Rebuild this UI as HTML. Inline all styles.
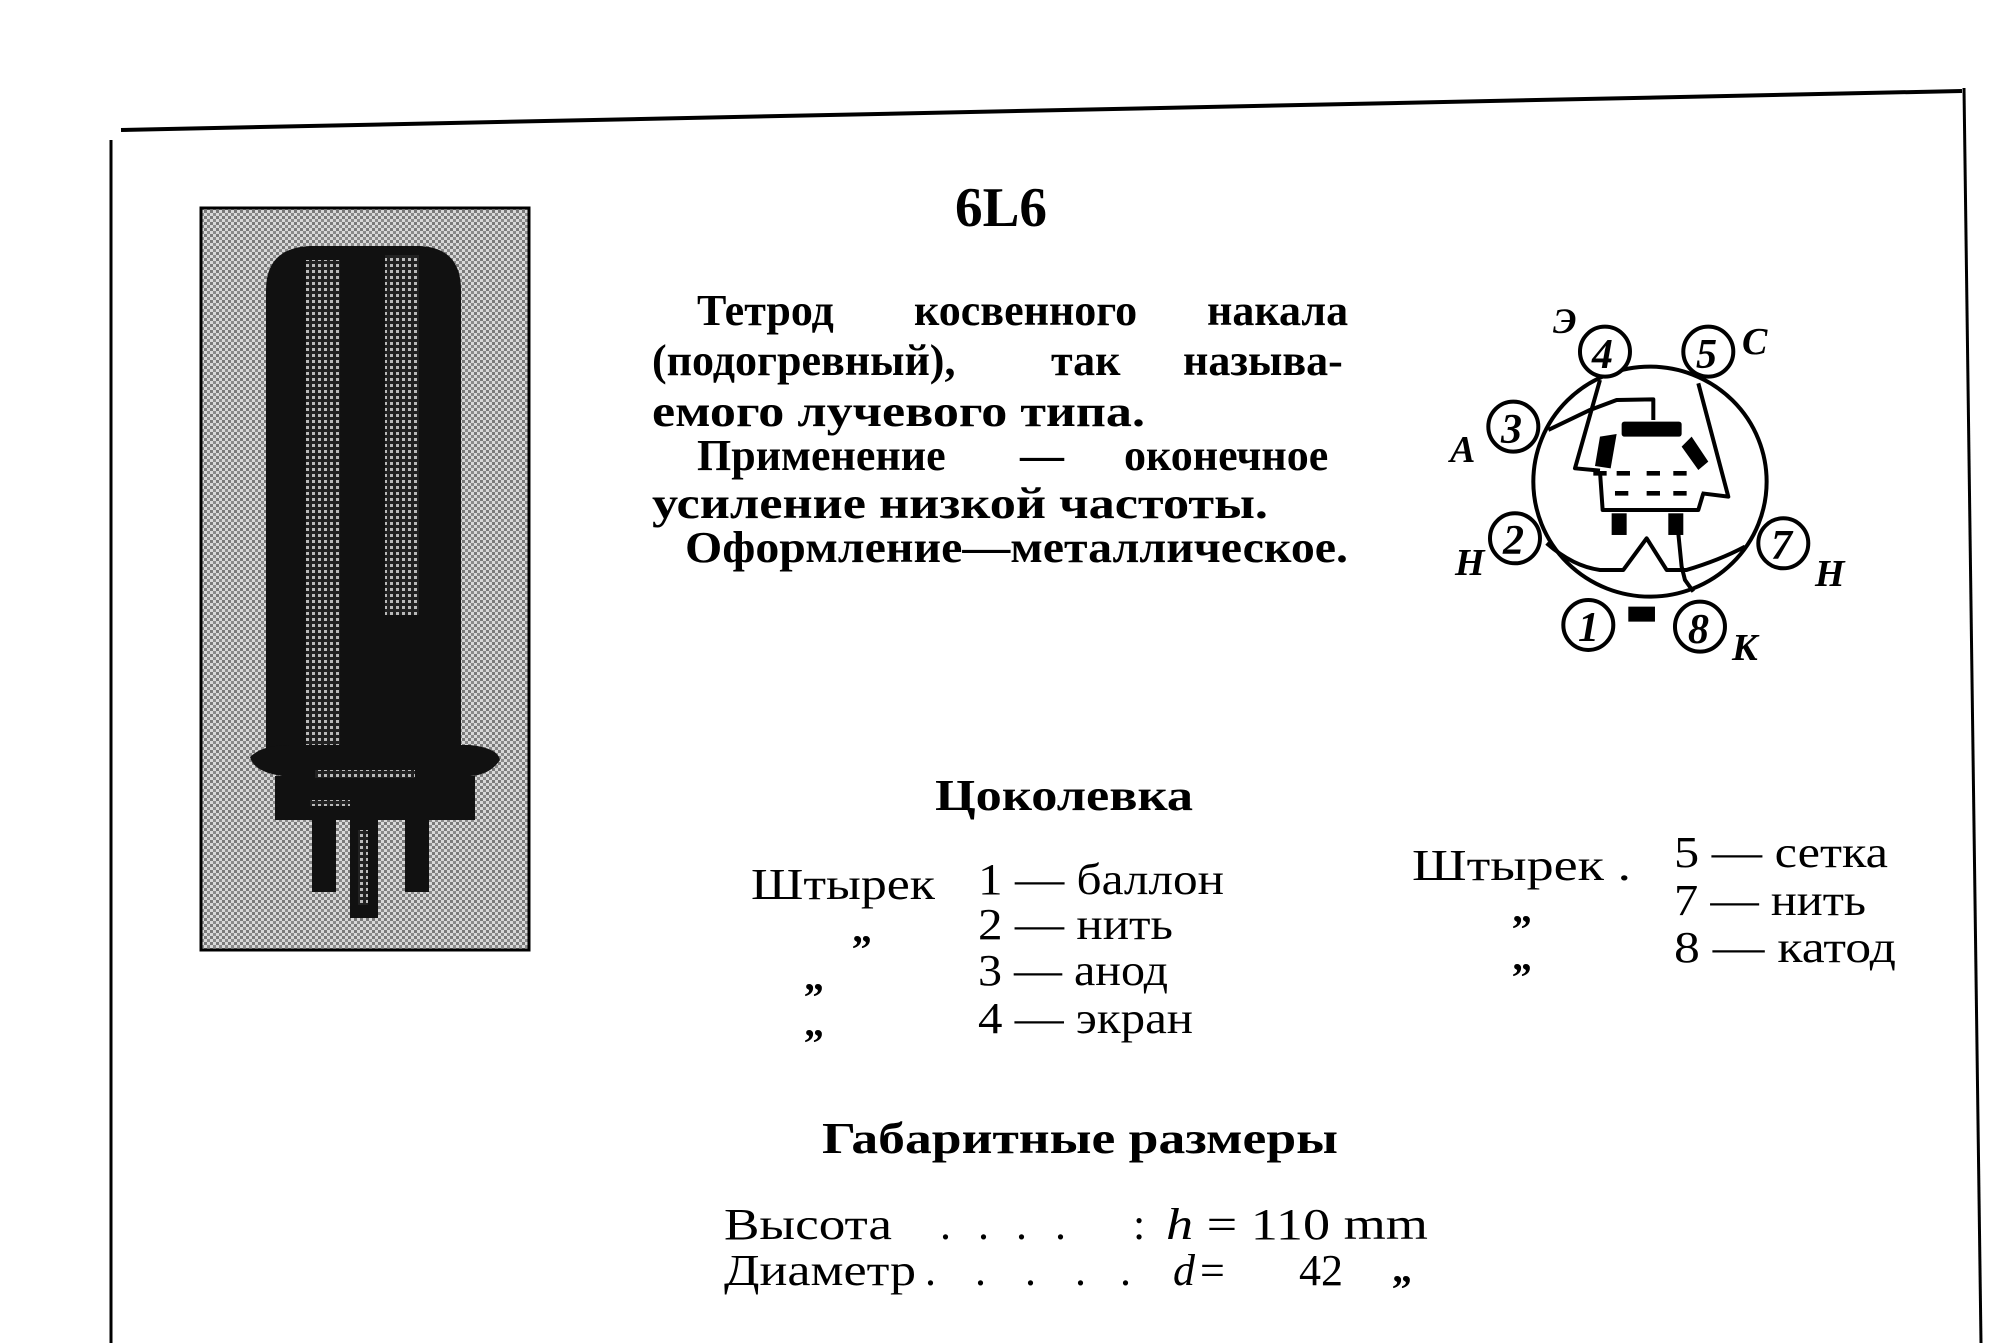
<!DOCTYPE html>
<html><head><meta charset="utf-8"><style>
html,body{margin:0;padding:0;background:#fff;}
svg{display:block;}
text{font-family:"Liberation Serif",serif;fill:#000;}
.b{font-weight:bold;}
</style></head><body>
<svg width="2013" height="1343" viewBox="0 0 2013 1343" xmlns="http://www.w3.org/2000/svg">
<defs>
<pattern id="dots" width="6" height="6" patternUnits="userSpaceOnUse">
<rect width="6" height="6" fill="#d8d8d8"/>
<rect x="0" y="0" width="3" height="3" fill="#7a7a7a"/>
<rect x="3" y="3" width="3" height="3" fill="#8a8a8a"/>
</pattern>
<pattern id="dots2" width="6" height="6" patternUnits="userSpaceOnUse">
<rect width="6" height="6" fill="#222"/>
<rect x="0" y="0" width="3" height="3" fill="#bbb"/>
</pattern>
</defs>
<rect width="2013" height="1343" fill="#fff"/>
<line x1="121" y1="130" x2="1962" y2="91" stroke="#000" stroke-width="4"/>
<line x1="111" y1="140" x2="111" y2="1343" stroke="#000" stroke-width="3"/>
<line x1="1964" y1="88" x2="1981" y2="1343" stroke="#000" stroke-width="3"/>

<rect x="201" y="208" width="328" height="742" fill="url(#dots)" stroke="#000" stroke-width="3"/>
<path d="M266 770 L266 290 Q266 248 310 246 L420 246 Q461 248 461 290 L461 770 Z" fill="#111"/>
<rect x="306" y="260" width="34" height="500" fill="url(#dots2)"/>
<rect x="385" y="255" width="34" height="360" fill="url(#dots2)"/>
<path d="M250 757 Q262 745 290 745 L470 745 Q498 748 500 760 Q490 775 470 776 L282 776 Q254 772 250 757 Z" fill="#111"/>
<rect x="275" y="776" width="200" height="44" fill="#111"/>
<rect x="315" y="770" width="100" height="8" fill="url(#dots2)"/>
<rect x="310" y="800" width="40" height="6" fill="url(#dots2)"/>
<rect x="312" y="820" width="24" height="72" fill="#111"/>
<rect x="350" y="820" width="28" height="98" fill="#111"/>
<rect x="358" y="830" width="10" height="75" fill="url(#dots2)"/>
<rect x="405" y="820" width="24" height="72" fill="#111"/>

<text x="955" y="226" class="b" font-size="56" textLength="92" lengthAdjust="spacingAndGlyphs">6L6</text>

<g font-size="44" class="b">
<text y="325"><tspan x="697">Тетрод</tspan><tspan x="914">косвенного</tspan><tspan x="1207">накала</tspan></text>
<text y="375"><tspan x="652">(подогревный),</tspan><tspan x="1051">так</tspan><tspan x="1183">называ-</tspan></text>
<text x="652" y="426" textLength="493" lengthAdjust="spacingAndGlyphs">емого лучевого типа.</text>
<text y="470"><tspan x="697">Применение</tspan><tspan x="1020">—</tspan><tspan x="1124">оконечное</tspan></text>
<text x="652" y="518" textLength="616" lengthAdjust="spacingAndGlyphs">усиление низкой частоты.</text>
<text x="685" y="562" textLength="663" lengthAdjust="spacingAndGlyphs">Оформление—металлическое.</text>
</g>

<g transform="translate(1420,280) scale(0.3333)" fill="none" stroke="#000" stroke-width="12" stroke-linejoin="round">
<ellipse cx="690" cy="605" rx="350" ry="345"/>
<g fill="#fff">
<circle cx="555" cy="215" r="75"/>
<circle cx="865" cy="215" r="75"/>
<circle cx="280" cy="440" r="75"/>
<circle cx="285" cy="775" r="75"/>
<circle cx="1090" cy="790" r="75"/>
<circle cx="505" cy="1035" r="75"/>
<circle cx="840" cy="1040" r="75"/>
</g>
<path d="M385 450 L510 390 L590 360 L700 358 L700 420"/>
<path d="M540 300 L465 565 L540 572"/>
<path d="M835 310 L925 650 L845 640"/>
<path d="M540 575 L548 690 L835 690 L850 640"/>
<path d="M380 790 Q460 860 540 870 L610 870 L680 775 L740 870 L800 870 Q900 840 975 800"/>
<path d="M775 760 L785 860 L795 900 L820 935"/>
<g stroke-width="14">
<path d="M520 580 H560 M590 580 H630 M680 580 H720 M760 580 H800"/>
<path d="M585 640 H625 M680 640 H720 M760 640 H800"/>
</g>
<g fill="#000" stroke="none">
<rect x="605" y="425" width="180" height="45" rx="8"/>
<path d="M540 470 L590 462 L572 565 L525 558 Z"/>
<path d="M785 500 L815 470 L865 545 L835 570 Z"/>
<rect x="575" y="700" width="45" height="65"/>
<rect x="745" y="700" width="45" height="65"/>
<rect x="625" y="980" width="80" height="45"/>
</g>
</g>
<g style="font-family:'Liberation Sans',sans-serif;font-style:italic;font-weight:bold" font-size="42">
<text x="1592" y="368">4</text>
<text x="1696" y="368">5</text>
<text x="1501" y="443">3</text>
<text x="1503" y="554">2</text>
<text x="1771" y="559">7</text>
<text x="1578" y="641">1</text>
<text x="1688" y="643">8</text>
<text x="1553" y="333" font-size="36">Э</text>
<text x="1742" y="354" font-size="38">С</text>
<text x="1450" y="462" font-size="38">А</text>
<text x="1455" y="575" font-size="38">Н</text>
<text x="1815" y="586" font-size="38">Н</text>
<text x="1732" y="660" font-size="38">К</text>
</g>

<g font-size="44">
<text x="935" y="810" class="b" textLength="258" lengthAdjust="spacingAndGlyphs">Цоколевка</text>
<text x="751" y="899" textLength="184" lengthAdjust="spacingAndGlyphs">Штырек</text>
<text x="978" y="894" textLength="246" lengthAdjust="spacingAndGlyphs">1 — баллон</text>
<text x="978" y="939" textLength="195" lengthAdjust="spacingAndGlyphs">2 — нить</text>
<text x="978" y="985" textLength="190" lengthAdjust="spacingAndGlyphs">3 — анод</text>
<text x="978" y="1033" textLength="215" lengthAdjust="spacingAndGlyphs">4 — экран</text>
<text x="852" y="942" font-size="40" class="b">„</text>
<text x="804" y="990" font-size="40" class="b">„</text>
<text x="804" y="1036" font-size="40" class="b">„</text>
<text x="1412" y="880" textLength="219" lengthAdjust="spacingAndGlyphs">Штырек .</text>
<text x="1674" y="867" textLength="214" lengthAdjust="spacingAndGlyphs">5 — сетка</text>
<text x="1674" y="915" textLength="192" lengthAdjust="spacingAndGlyphs">7 — нить</text>
<text x="1674" y="962" textLength="222" lengthAdjust="spacingAndGlyphs">8 — катод</text>
<text x="1512" y="922" font-size="40" class="b">„</text>
<text x="1512" y="970" font-size="40" class="b">„</text>
<text x="822" y="1153" class="b" textLength="516" lengthAdjust="spacingAndGlyphs">Габаритные размеры</text>
<text x="724" y="1239" textLength="168" lengthAdjust="spacingAndGlyphs">Высота</text>
<text x="940" y="1239">.</text><text x="978" y="1239">.</text><text x="1016" y="1239">.</text><text x="1055" y="1239">.</text><text x="1133" y="1239">:</text>
<text x="1166" y="1239" textLength="262" lengthAdjust="spacingAndGlyphs"><tspan font-style="italic">h</tspan> = 110 mm</text>
<text x="724" y="1285" textLength="192" lengthAdjust="spacingAndGlyphs">Диаметр</text>
<text x="925" y="1285">.</text><text x="975" y="1285">.</text><text x="1025" y="1285">.</text><text x="1075" y="1285">.</text><text x="1120" y="1285">.</text>
<text x="1173" y="1285" font-style="italic">d</text>
<text x="1200" y="1285">=</text>
<text x="1299" y="1285">42</text>
<text x="1392" y="1282" font-size="40" class="b">„</text>
</g>
</svg>
</body></html>
